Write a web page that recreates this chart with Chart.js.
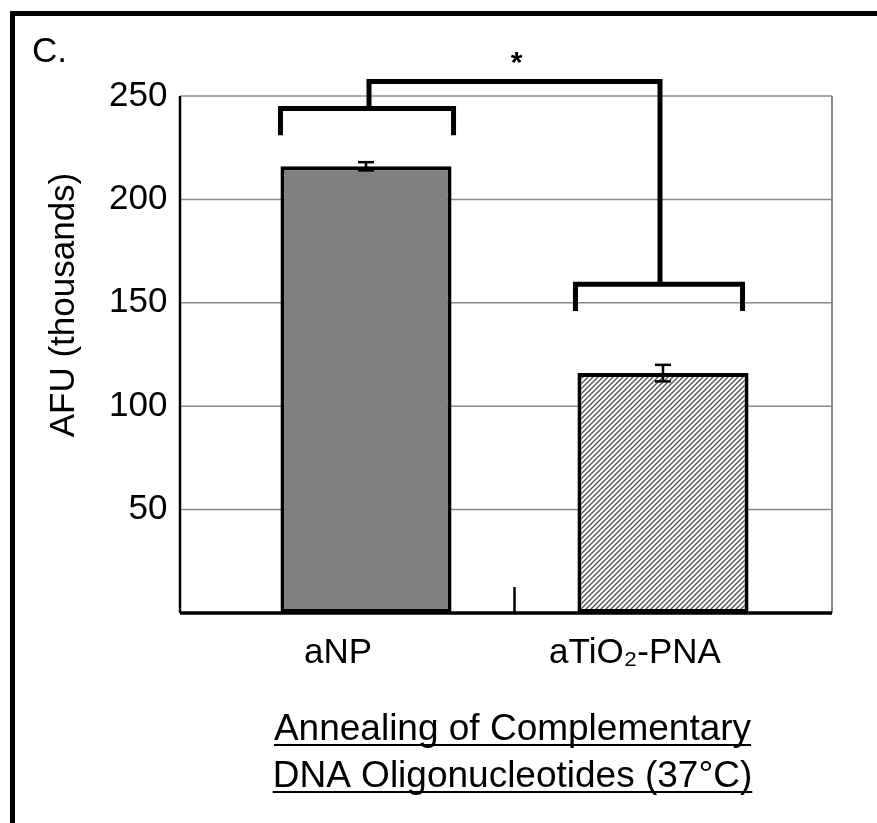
<!DOCTYPE html>
<html>
<head>
<meta charset="utf-8">
<script src="https://cdn.jsdelivr.net/npm/chart.js@4.4.0/dist/chart.umd.min.js"></script>
<style>
  html, body { margin: 0; padding: 0; background: #fff; }
  #wrap { width: 877px; height: 823px; position: relative; }
</style>
</head>
<body>
<div id="wrap"><canvas id="myChart"></canvas></div>
<script>
// data (AFU in thousands)
const categories = ["aNP", "aTiO\u2082-PNA"];
const afuValues = [216, 116];
const afuErrors = [2, 4];
const yTicks = [50, 100, 150, 200, 250];
const xTitleLines = ["Annealing of Complementary", "DNA Oligonucleotides (37\u00B0C)"];
const yTitle = "AFU (thousands)";
const panelLabel = "C.";
const sigLabel = "*";

const FONT = '"Liberation Sans", Arial, Helvetica, sans-serif';
Chart.defaults.font.family = FONT;
Chart.defaults.color = "#000";

// plot frame (Excel style box is wider than the bar area)
const PLOT_LEFT = 180;
const PLOT_RIGHT = 832;

function hatchPattern() {
    const s = 5;
    const c = document.createElement("canvas");
    c.width = s; c.height = s;
    const g = c.getContext("2d");
    g.fillStyle = "#fff";
    g.fillRect(0, 0, s, s);
    g.strokeStyle = "#555";
    g.lineWidth = 1.4;
    g.beginPath();
    g.moveTo(-1, s + 1); g.lineTo(s + 1, -1);
    g.moveTo(-1, 1); g.lineTo(1, -1);
    g.moveTo(s - 1, s + 1); g.lineTo(s + 1, s - 1);
    g.stroke();
    return g.createPattern(c, "repeat");
}

function line(ctx, x1, y1, x2, y2) {
    ctx.beginPath();
    ctx.moveTo(x1, y1);
    ctx.lineTo(x2, y2);
    ctx.stroke();
}

const framePlugin = {
    id: "frame",
    beforeDatasetsDraw(chart) {
        const { ctx, scales: { y } } = chart;
        ctx.save();
        ctx.strokeStyle = "#8a8a8a";
        ctx.lineWidth = 1.5;
        yTicks.forEach(v => {
            const py = y.getPixelForValue(v);
            line(ctx, PLOT_LEFT, py, PLOT_RIGHT, py);
        });
        ctx.lineWidth = 2;
        line(ctx, PLOT_RIGHT, y.getPixelForValue(250), PLOT_RIGHT, y.getPixelForValue(0));
        ctx.restore();
    },
    afterDatasetsDraw(chart) {
        const { ctx, scales: { y } } = chart;
        const bars = chart.getDatasetMeta(0).data;
        const y0 = y.getPixelForValue(0);
        ctx.save();
        ctx.strokeStyle = "#000";

        // axes
        ctx.lineWidth = 2.5;
        line(ctx, PLOT_LEFT, y.getPixelForValue(250), PLOT_LEFT, y0);
        ctx.lineWidth = 3.5;
        line(ctx, PLOT_LEFT, y0, PLOT_RIGHT, y0);

        // tick between the categories
        ctx.lineWidth = 2.5;
        const mid = (bars[0].x + bars[1].x) / 2;
        line(ctx, mid, y0 - 26, mid, y0);

        // error bars
        ctx.lineWidth = 2.5;
        bars.forEach((b, i) => {
            const hi = y.getPixelForValue(afuValues[i] + afuErrors[i]);
            const lo = y.getPixelForValue(afuValues[i] - afuErrors[i]);
            line(ctx, b.x, hi, b.x, lo);
            line(ctx, b.x - 8, hi, b.x + 8, hi);
            line(ctx, b.x - 8, lo, b.x + 8, lo);
        });

        // significance brackets
        ctx.lineWidth = 5;
        ctx.lineJoin = "miter";
        ctx.lineCap = "butt";
        const b1 = bars[0], b2 = bars[1];
        const l1 = b1.x - b1.width / 2, r1 = b1.x + b1.width / 2;
        const l2 = b2.x - b2.width / 2, r2 = b2.x + b2.width / 2;
        const yTop = y.getPixelForValue(257);
        const yA = y.getPixelForValue(244), yAleg = y.getPixelForValue(231);
        const yB = y.getPixelForValue(159), yBleg = y.getPixelForValue(146);

        ctx.beginPath();
        ctx.moveTo(l1, yAleg); ctx.lineTo(l1, yA); ctx.lineTo(r1 + 2, yA); ctx.lineTo(r1 + 2, yAleg);
        ctx.stroke();
        ctx.beginPath();
        ctx.moveTo(l2 - 2, yBleg); ctx.lineTo(l2 - 2, yB); ctx.lineTo(r2 - 6, yB); ctx.lineTo(r2 - 6, yBleg);
        ctx.stroke();
        ctx.beginPath();
        ctx.moveTo(b1.x + 3, yA); ctx.lineTo(b1.x + 3, yTop); ctx.lineTo(b2.x - 3, yTop); ctx.lineTo(b2.x - 3, yB);
        ctx.stroke();

        ctx.fillStyle = "#000";
        ctx.font = "bold 30px " + FONT;
        ctx.textAlign = "center";
        ctx.textBaseline = "alphabetic";
        ctx.fillText(sigLabel, (b1.x + b2.x) / 2 + 2, yTop - 10);
        ctx.restore();
    },
    afterDraw(chart) {
        const { ctx, chartArea } = chart;
        ctx.save();
        ctx.fillStyle = "#000";
        ctx.strokeStyle = "#000";

        // outer panel frame
        ctx.lineWidth = 5;
        line(ctx, 10, 13.5, 877, 13.5);
        line(ctx, 12.5, 11, 12.5, 823);

        // panel label
        ctx.font = "35px " + FONT;
        ctx.textAlign = "left";
        ctx.textBaseline = "alphabetic";
        ctx.fillText(panelLabel, 32, 62);

        // y axis title
        ctx.save();
        ctx.translate(64, 305);
        ctx.rotate(-Math.PI / 2);
        ctx.textAlign = "center";
        ctx.textBaseline = "middle";
        ctx.font = "35px " + FONT;
        ctx.fillText(yTitle, 0, 0);
        ctx.restore();

        // x axis title, underlined
        const cx = (chartArea.left + chartArea.right) / 2 - 2;
        ctx.font = "37px " + FONT;
        ctx.textAlign = "center";
        ctx.textBaseline = "alphabetic";
        ctx.lineWidth = 2;
        [740, 787].forEach((by, i) => {
            ctx.fillText(xTitleLines[i], cx, by);
            const w = ctx.measureText(xTitleLines[i]).width;
            line(ctx, cx - w / 2, by + 5, cx + w / 2, by + 5);
        });
        ctx.restore();
    }
};

const ctx = document.getElementById("myChart");

new Chart(ctx, {
    type: "bar",
    data: {
        labels: categories,
        datasets: [{
            data: afuValues,
            backgroundColor: ["#808080", hatchPattern()],
            borderColor: "#000",
            borderWidth: 4,
            borderSkipped: false,
            categoryPercentage: 1,
            barPercentage: 0.576
        }]
    },
    options: {
        responsive: true,
        maintainAspectRatio: false,
        animation: false,
        devicePixelRatio: 1,
        layout: { padding: { top: 96, right: 65.5, left: 20, bottom: 0 } },
        plugins: {
            legend: { display: false },
            tooltip: { enabled: false }
        },
        scales: {
            x: {
                grid: { display: false, drawTicks: false },
                border: { display: false },
                ticks: { font: { size: 35 }, padding: 19, labelOffset: -28, maxRotation: 0, color: "#000" },
                afterFit: s => { s.height = 210; }
            },
            y: {
                min: 0,
                max: 250,
                afterBuildTicks: s => { s.ticks = yTicks.map(v => ({ value: v })); },
                grid: { display: false, drawTicks: false },
                border: { display: false },
                ticks: { font: { size: 35 }, padding: 50, color: "#000" },
                afterFit: s => { s.width = 197.5; }
            }
        }
    },
    plugins: [framePlugin]
});
</script>
</body>
</html>
